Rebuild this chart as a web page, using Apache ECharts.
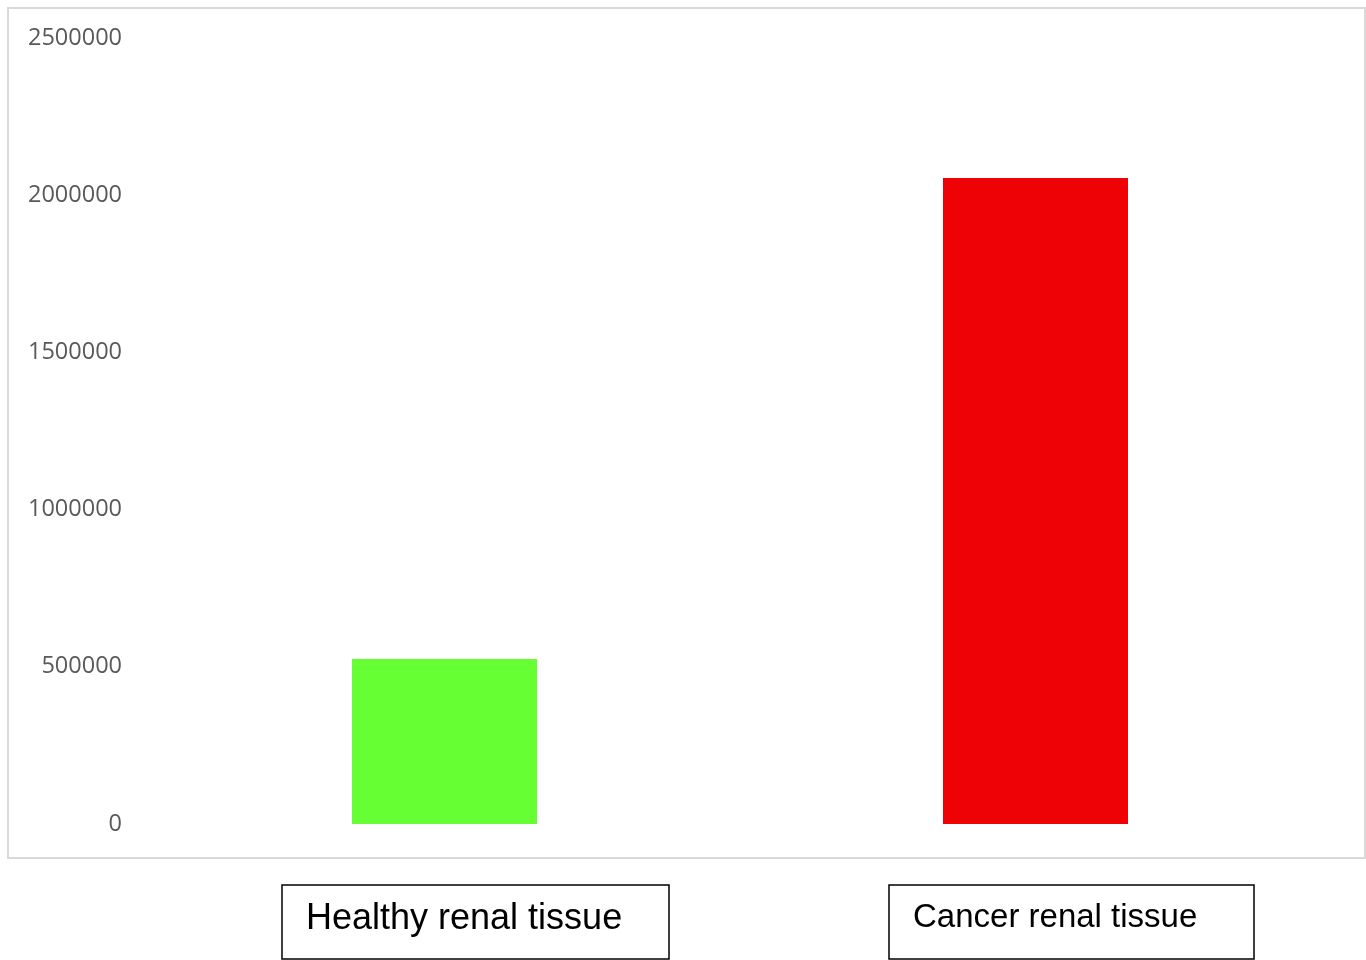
<!DOCTYPE html>
<html>
<head>
<meta charset="utf-8">
<style>html,body{margin:0;padding:0;background:#fff;}#c{width:1366px;height:960px;}</style>
<script src="https://cdn.jsdelivr.net/npm/echarts@6/dist/echarts.min.js"></script>
</head>
<body>
<div id="c"></div>
<script>
const categories = ['Healthy renal tissue', 'Cancer renal tissue'];
const values = [525000, 2055000];
const barColors = ['#66ff33', '#ee0205'];
const yTicks = [0, 500000, 1000000, 1500000, 2000000, 2500000];

const chart = echarts.init(document.getElementById('c'), null, {renderer: 'canvas'});
chart.setOption({
  animation: false,
  backgroundColor: '#fff',
  grid: {left: 149, right: 35, top: 38, bottom: 136},
  xAxis: {
    type: 'category',
    data: categories,
    axisLine: {show: false},
    axisTick: {show: false},
    axisLabel: {show: false}
  },
  yAxis: {
    type: 'value',
    min: yTicks[0],
    max: yTicks[yTicks.length - 1],
    interval: yTicks[1] - yTicks[0],
    axisLine: {show: false},
    axisTick: {show: false},
    splitLine: {show: false},
    axisLabel: {
      margin: 27,
      color: '#595959',
      fontFamily: 'Open Sans',
      fontSize: 23.5,
      formatter: function (v) { return String(v); }
    }
  },
  series: [{
    type: 'bar',
    barWidth: 185,
    data: values.map((v, i) => ({value: v, itemStyle: {color: barColors[i]}}))
  }],
  graphic: [
    {type: 'rect', shape: {x: 8, y: 8, width: 1357, height: 850},
     style: {fill: 'none', stroke: '#d9d9d9', lineWidth: 2}, silent: true},
    {type: 'rect', shape: {x: 282, y: 885, width: 387, height: 74},
     style: {fill: '#fff', stroke: '#000', lineWidth: 1.5}},
    {type: 'text', x: 306, y: 919,
     style: {text: categories[0], font: '36px "Liberation Sans", Arial, sans-serif', fill: '#000', textVerticalAlign: 'middle', verticalAlign: 'middle'}},
    {type: 'rect', shape: {x: 889, y: 885, width: 365, height: 74},
     style: {fill: '#fff', stroke: '#000', lineWidth: 1.5}},
    {type: 'text', x: 913, y: 918,
     style: {text: categories[1], font: '33px "Liberation Sans", Arial, sans-serif', fill: '#000', textVerticalAlign: 'middle', verticalAlign: 'middle'}}
  ]
});
</script>
</body>
</html>
